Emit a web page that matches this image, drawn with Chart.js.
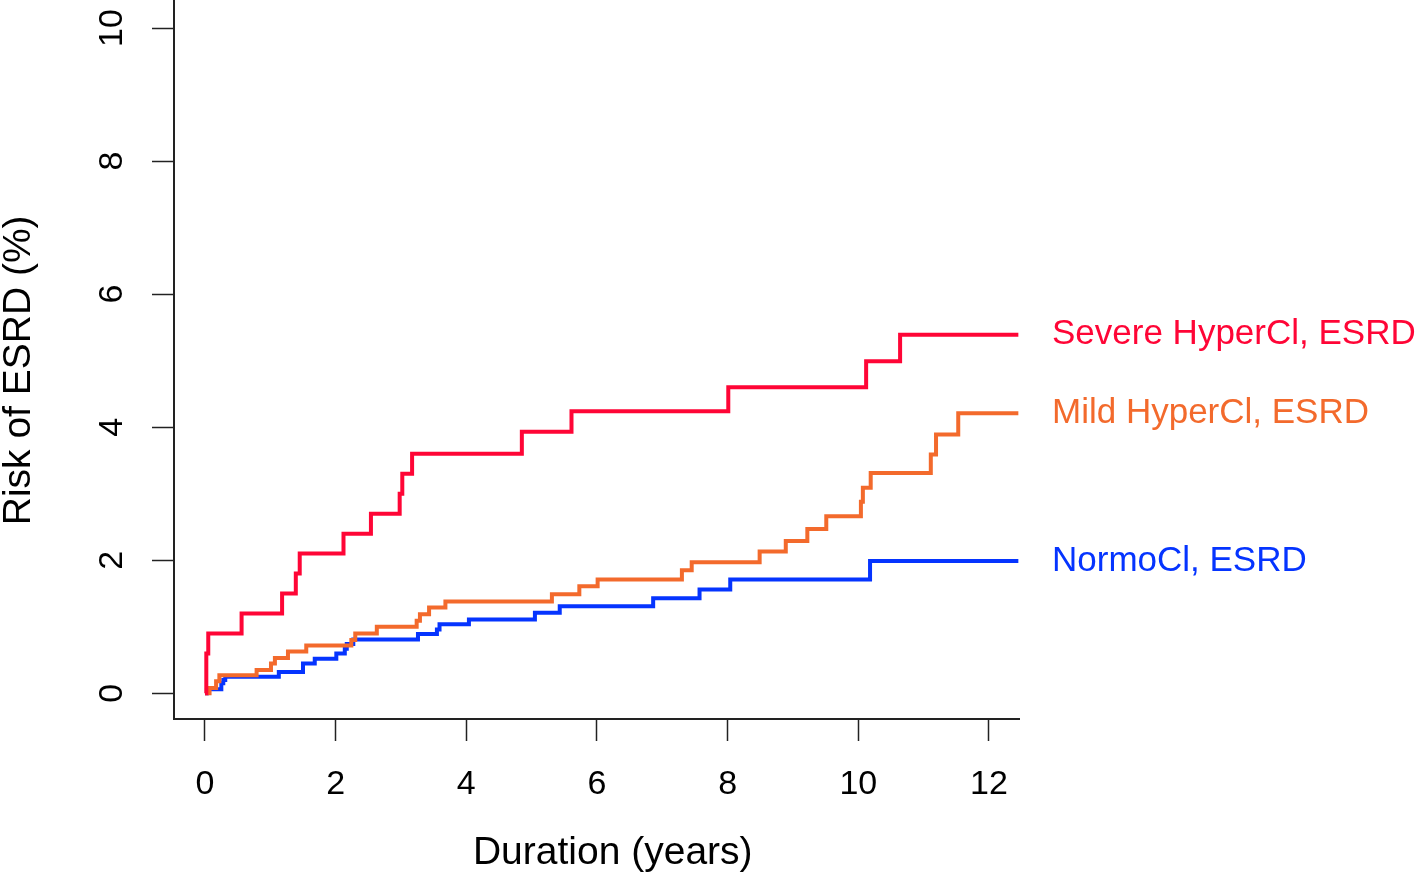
<!DOCTYPE html>
<html>
<head>
<meta charset="utf-8">
<script src="https://cdn.jsdelivr.net/npm/chart.js@4.4.1/dist/chart.umd.min.js"></script>
<style>
  html, body { margin: 0; padding: 0; background: #fff; }
  canvas { display: block; }
</style>
</head>
<body>
<canvas id="esrd" width="1416" height="875"></canvas>
<script>
// Cumulative risk of ESRD (%), step curves
const severeTimes = [0, 0.02, 0.05, 0.56, 1.18, 1.39, 1.45, 2.12, 2.54, 2.98, 3.02, 3.17, 4.85, 5.61, 8.01, 10.12, 10.64, 12.45];
const severeRisk  = [0, 0.6, 0.9, 1.2, 1.5, 1.8, 2.1, 2.4, 2.7, 3.0, 3.3, 3.6, 3.93, 4.24, 4.6, 4.99, 5.39, 5.39];

const mildTimes = [0, 0.07, 0.17, 0.22, 0.79, 1.01, 1.07, 1.27, 1.55, 2.24, 2.3, 2.63, 3.24, 3.29, 3.43, 3.68, 5.31, 5.73, 6.01, 7.30, 7.45, 8.49, 8.89, 9.22, 9.51, 10.04, 10.07, 10.19, 11.11, 11.19, 11.53, 12.45];
const mildRisk  = [0, 0.08, 0.18, 0.27, 0.35, 0.45, 0.53, 0.63, 0.72, 0.8, 0.9, 1.0, 1.09, 1.19, 1.29, 1.38, 1.49, 1.61, 1.71, 1.85, 1.97, 2.13, 2.29, 2.47, 2.66, 2.88, 3.09, 3.31, 3.59, 3.89, 4.21, 4.21];

const normoTimes = [0, 0.03, 0.25, 0.28, 0.31, 1.13, 1.5, 1.68, 2.01, 2.14, 2.17, 2.27, 3.26, 3.55, 3.59, 4.04, 5.05, 5.43, 6.86, 7.57, 8.04, 10.18, 12.45];
const normoRisk  = [0, 0.06, 0.15, 0.2, 0.25, 0.32, 0.45, 0.52, 0.6, 0.67, 0.74, 0.81, 0.89, 0.96, 1.04, 1.11, 1.21, 1.31, 1.43, 1.56, 1.71, 1.99, 1.99];

const seriesLabels = ['Severe HyperCl, ESRD', 'Mild HyperCl, ESRD', 'NormoCl, ESRD'];
const seriesColors = ['#FF0536', '#F36A2C', '#0534FF'];

const xTicks = [0, 2, 4, 6, 8, 10, 12];
const yTicks = [0, 2, 4, 6, 8, 10];

const FONT = "'Liberation Sans', Arial, Helvetica, sans-serif";

function toPoints(times, risk) {
  return times.map((t, i) => ({x: t, y: risk[i]}));
}

function curve(i, times, risk) {
  return {
    label: seriesLabels[i],
    data: toPoints(times, risk),
    borderColor: seriesColors[i],
    backgroundColor: seriesColors[i],
    borderWidth: 4,
    stepped: 'before',
    pointRadius: 0,
    fill: false,
    borderCapStyle: 'butt',
    borderJoinStyle: 'miter'
  };
}

// write each group's name at the height where its curve ends
const endLabels = {
  id: 'endLabels',
  afterDatasetsDraw(chart) {
    const ctx = chart.ctx;
    const yScale = chart.scales.y;
    ctx.save();
    ctx.font = "35px " + FONT;
    ctx.textAlign = 'left';
    ctx.textBaseline = 'middle';
    chart.data.datasets.forEach(ds => {
      const last = ds.data[ds.data.length - 1];
      ctx.fillStyle = ds.borderColor;
      ctx.fillText(ds.label, chart.chartArea.right + 33, yScale.getPixelForValue(last.y));
    });
    ctx.restore();
  }
};

new Chart(document.getElementById('esrd'), {
  type: 'line',
  data: {
    datasets: [
      curve(0, severeTimes, severeRisk),
      curve(1, mildTimes, mildRisk),
      curve(2, normoTimes, normoRisk)
    ]
  },
  options: {
    responsive: false,
    animation: false,
    layout: { padding: { left: 0, right: 397, top: 0, bottom: 0 } },
    plugins: { legend: { display: false }, tooltip: { enabled: false } },
    scales: {
      x: {
        type: 'linear',
        min: -0.4745,
        max: 12.46,
        afterBuildTicks: s => { s.ticks = xTicks.map(v => ({value: v})); },
        afterFit: s => { s.height = 156; s.paddingLeft = 0; s.paddingRight = 0; },
        grid: { drawOnChartArea: false, drawTicks: true, tickLength: 22, tickColor: '#222', tickWidth: 1.5 },
        border: { display: true, color: '#222', width: 2 },
        ticks: { color: '#000', padding: 23, maxRotation: 0, font: { family: FONT, size: 34 } },
        title: { display: true, text: '\u00a0\u00a0\u00a0Duration (years)', color: '#000', padding: 0,
                 font: { family: FONT, size: 39, lineHeight: 1.1 } }
      },
      y: {
        type: 'linear',
        min: -0.386,
        max: 10.421,
        afterBuildTicks: s => { s.ticks = yTicks.map(v => ({value: v})); },
        afterFit: s => { s.width = 174; s.paddingTop = 0; s.paddingBottom = 0; },
        grid: { drawOnChartArea: false, drawTicks: true, tickLength: 22, tickColor: '#222', tickWidth: 1.5 },
        border: { display: true, color: '#222', width: 2 },
        ticks: { color: '#000', padding: 20, minRotation: 90, maxRotation: 90, crossAlign: 'center',
                 font: { family: FONT, size: 34 } },
        title: { display: true, text: 'Risk of ESRD (%)\u00a0\u00a0', color: '#000', padding: 0,
                 font: { family: FONT, size: 39, lineHeight: 1.0 } }
      }
    }
  },
  plugins: [endLabels]
});
</script>
</body>
</html>
